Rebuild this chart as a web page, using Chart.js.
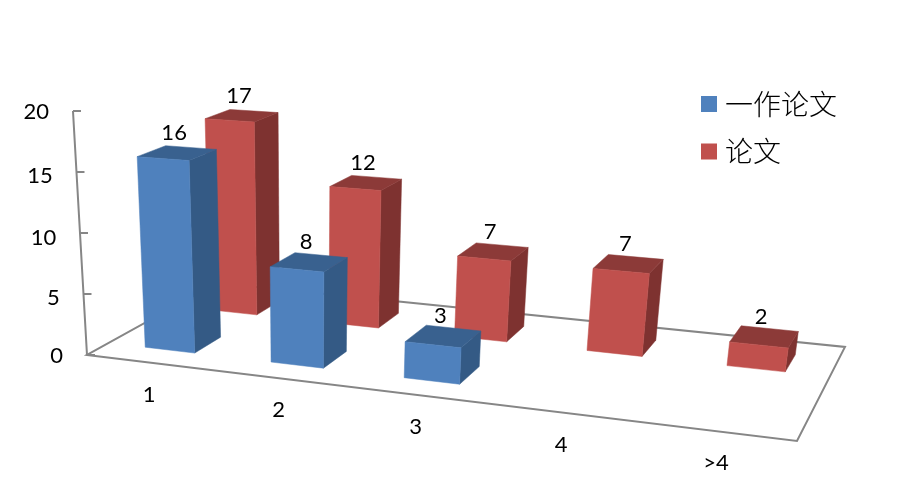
<!DOCTYPE html>
<html>
<head>
<meta charset="utf-8">
<style>
html, body { margin: 0; background: #fff; }
#wrap { width: 906px; height: 480px; }
</style>
<script src="https://cdn.jsdelivr.net/npm/chart.js@4"></script>
</head>
<body>
<div id="wrap"><canvas id="myChart"></canvas></div>
<script>
const categories = ['1', '2', '3', '4', '>4'];
const firstAuthorPapers = [16, 8, 3, null, null];
const allPapers = [17, 12, 7, 7, 2];
const seriesNames = ['一作论文', '论文'];
const yTickStep = 5;
const yMax = 20;

const frontColors = ['#4F81BD', '#C0504D'];
const sideColors = ['#345A85', '#7E3230'];
const topColors = ['#39618F', '#8C3A38'];
// depth range of each series on the floor, 0 = front edge, 1 = back edge
const depthRanges = [[0.15, 0.35], [0.65, 0.85]];

const axisColor = '#868686';
const labelFont = '22px Lato';
const legendFont = '300 28px "Noto Sans CJK SC"';

// camera of the 3d chart: u along categories, v into depth, t up the value axis (all 0..1)
function project(u, v, t) {
	const w = -0.138 * u + 0.1411 * v - 0.06 * t + 1;
	return {
		x: (600 * u + 160.6 * v - 18.4 * t + 87) / w,
		y: (25.1 * u - 32.1 * v - 250.7 * t + 355) / w
	};
}

function fillFace(ctx, color, points) {
	ctx.fillStyle = color;
	ctx.strokeStyle = color;
	ctx.lineWidth = 0.5;
	ctx.beginPath();
	points.forEach((p, i) => {
		const s = project(p[0], p[1], p[2]);
		if (i === 0) ctx.moveTo(s.x, s.y);
		else ctx.lineTo(s.x, s.y);
	});
	ctx.closePath();
	ctx.fill();
	ctx.stroke();
}

function toU(chart, px) {
	const xs = chart.scales.x;
	return (px - xs.left) / xs.width;
}

function toT(chart, px) {
	const ys = chart.scales.y;
	return (ys.bottom - px) / (ys.bottom - ys.top);
}

const box3d = {
	id: 'box3d',
	// floor, value axis and its labels, category labels, legend
	beforeDatasetsDraw(chart) {
		const ctx = chart.ctx;
		const ys = chart.scales.y;
		ctx.save();
		ctx.strokeStyle = axisColor;
		ctx.lineWidth = 2;
		ctx.beginPath();
		[[0, 0], [1, 0], [1, 1], [0, 1]].forEach((c, i) => {
			const s = project(c[0], c[1], 0);
			if (i === 0) ctx.moveTo(s.x, s.y);
			else ctx.lineTo(s.x, s.y);
		});
		ctx.closePath();
		ctx.stroke();

		const axisBottom = project(0, 0, 0);
		const axisTop = project(0, 0, 1);
		ctx.beginPath();
		ctx.moveTo(axisBottom.x, axisBottom.y);
		ctx.lineTo(axisTop.x, axisTop.y);
		ys.ticks.forEach(tick => {
			const t = tick.value / yMax;
			const x = axisBottom.x + (axisTop.x - axisBottom.x) * t;
			const y = ys.getPixelForValue(tick.value);
			ctx.moveTo(x, y);
			ctx.lineTo(x + 8, y);
		});
		ctx.stroke();

		ctx.fillStyle = '#000';
		ctx.font = labelFont;
		ctx.textBaseline = 'middle';
		ctx.textAlign = 'right';
		ys.ticks.forEach(tick => {
			const s = project(0, 0, tick.value / yMax);
			ctx.fillText(tick.label, s.x - 24, s.y + 1);
		});

		ctx.textAlign = 'center';
		categories.forEach((c, i) => {
			const u = toU(chart, chart.scales.x.getPixelForValue(i));
			const s = project(u, 0, 0);
			ctx.fillText(c, s.x, s.y + 32);
		});

		ctx.textAlign = 'left';
		ctx.font = legendFont;
		seriesNames.forEach((name, i) => {
			const y = 104 + i * 47.5;
			ctx.fillStyle = frontColors[i];
			ctx.fillRect(701, y - 8, 16, 16);
			ctx.fillStyle = '#000';
			ctx.fillText(name, 725, y);
		});
		ctx.restore();
	},
	// replaces the flat bar with its three visible faces
	beforeDatasetDraw(chart, args) {
		const ctx = chart.ctx;
		const i = args.index;
		const values = chart.data.datasets[i].data;
		const v0 = depthRanges[i][0];
		const v1 = depthRanges[i][1];
		ctx.save();
		args.meta.data.forEach((bar, k) => {
			if (values[k] === null) return;
			const u0 = toU(chart, bar.x - bar.width / 2);
			const u1 = toU(chart, bar.x + bar.width / 2);
			const t = toT(chart, bar.y);
			const b = toT(chart, bar.base);
			fillFace(ctx, sideColors[i], [[u1, v0, t], [u1, v1, t], [u1, v1, b], [u1, v0, b]]);
			fillFace(ctx, topColors[i], [[u0, v0, t], [u1, v0, t], [u1, v1, t], [u0, v1, t]]);
			fillFace(ctx, frontColors[i], [[u0, v0, t], [u1, v0, t], [u1, v0, b], [u0, v0, b]]);
		});
		ctx.restore();
		return false;
	},
	// value labels above each bar
	afterDatasetsDraw(chart) {
		const ctx = chart.ctx;
		ctx.save();
		ctx.fillStyle = '#000';
		ctx.font = labelFont;
		ctx.textAlign = 'center';
		ctx.textBaseline = 'middle';
		chart.data.datasets.forEach((ds, i) => {
			const v = (depthRanges[i][0] + depthRanges[i][1]) / 2;
			chart.getDatasetMeta(i).data.forEach((bar, k) => {
				if (ds.data[k] === null) return;
				const s = project(toU(chart, bar.x), v, toT(chart, bar.y));
				ctx.fillText(String(ds.data[k]), s.x - 3, s.y - 20);
			});
		});
		ctx.restore();
	}
};

const myChart = new Chart(document.getElementById('myChart'), {
	type: 'bar',
	data: {
		labels: categories,
		datasets: [
			{ label: seriesNames[0], data: firstAuthorPapers, backgroundColor: frontColors[0] },
			{ label: seriesNames[1], data: allPapers, backgroundColor: frontColors[1] }
		]
	},
	options: {
		responsive: true,
		maintainAspectRatio: false,
		animation: false,
		layout: { padding: { top: 111, bottom: 125, left: 87, right: 109 } },
		datasets: { bar: { grouped: false, barPercentage: 0.4, categoryPercentage: 1 } },
		scales: {
			x: { display: false },
			y: { display: false, min: 0, max: yMax, ticks: { stepSize: yTickStep } }
		},
		plugins: {
			legend: { display: false },
			tooltip: { enabled: false }
		}
	},
	plugins: [box3d]
});
</script>
</body>
</html>
